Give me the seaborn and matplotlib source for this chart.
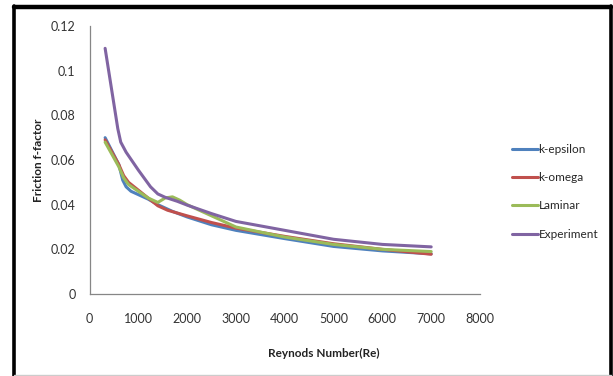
import matplotlib
matplotlib.use("Agg")
import matplotlib.pyplot as plt
from matplotlib.lines import Line2D
import numpy as np
import pandas as pd
import seaborn as sns

# Reynolds numbers and friction factors for each model
re_exp = [320, 580, 640, 750, 1000, 1250, 1400, 1550, 1800, 2000, 2500, 3000, 4000, 5000, 6000, 7000]
f_exp = [0.110, 0.074, 0.068, 0.0635, 0.0555, 0.048, 0.0448, 0.0433, 0.0415, 0.0398, 0.036, 0.0325,
         0.0285, 0.0245, 0.0222, 0.0211]

re_keps = [320, 600, 680, 750, 850, 1000, 1200, 1400, 1700, 2000, 2500, 3000, 4000, 5000, 6000, 7000]
f_keps = [0.070, 0.058, 0.051, 0.048, 0.046, 0.0445, 0.0425, 0.040, 0.037, 0.0345, 0.031, 0.0285,
          0.0248, 0.0213, 0.0193, 0.0180]

re_komg = [320, 600, 700, 800, 1000, 1200, 1400, 1600, 2000, 2500, 3000, 4000, 5000, 6000, 7000]
f_komg = [0.069, 0.058, 0.053, 0.050, 0.0465, 0.043, 0.0395, 0.0375, 0.035, 0.032, 0.0295,
          0.0258, 0.0225, 0.0200, 0.0178]

re_lam = [320, 600, 700, 800, 1000, 1200, 1400, 1550, 1700, 1850, 2000, 2300, 2600, 3000, 4000,
          5000, 6000, 7000]
f_lam = [0.068, 0.057, 0.052, 0.049, 0.046, 0.043, 0.041, 0.043, 0.0435, 0.042, 0.040, 0.037,
         0.034, 0.030, 0.0255, 0.0222, 0.0200, 0.0190]

series = ["k-epsilon", "k-omega", "Laminar", "Experiment"]
colors = ["#4F81BD", "#C0504D", "#9BBB59", "#8064A2"]

frames = []
for name, xs, ys in zip(series,
                        [re_keps, re_komg, re_lam, re_exp],
                        [f_keps, f_komg, f_lam, f_exp]):
    frames.append(pd.DataFrame({"Re": xs, "f": ys, "model": name}))
df = pd.concat(frames, ignore_index=True)

sns.set_theme(style="white")
plt.rcParams["font.family"] = ["Lato", "DejaVu Sans"]

fig = plt.figure(figsize=(6.13, 3.76), dpi=100)
ax = fig.add_axes([89.5 / 613, 1 - 294 / 376, (480 - 89.5) / 613, (294 - 26) / 376])

sns.lineplot(data=df, x="Re", y="f", hue="model", hue_order=series,
             palette=colors, linewidth=2.2, sort=False, estimator=None,
             ax=ax, legend=False)
for ln in ax.lines:
    ln.set_solid_joinstyle("round")
    ln.set_solid_capstyle("round")

ax.set_xlim(0, 8000)
ax.set_ylim(0, 0.12)
ax.set_xticks(np.arange(0, 8001, 1000))
ax.set_yticks([0, 0.02, 0.04, 0.06, 0.08, 0.1, 0.12])
ax.set_yticklabels(["0", "0.02", "0.04", "0.06", "0.08", "0.1", "0.12"])

for s in ["top", "right"]:
    ax.spines[s].set_visible(False)
for s in ["left", "bottom"]:
    ax.spines[s].set_color("#868686")
    ax.spines[s].set_linewidth(0.9)
ax.tick_params(axis="both", which="major", direction="out", length=4,
               width=0.9, color="#868686", labelsize=9, labelcolor="#333333")
ax.tick_params(axis="y", pad=6)
ax.tick_params(axis="x", pad=10)

ax.set_xlabel("Reynods Number(Re)", fontsize=8.5, fontweight="bold", color="#222222")
ax.set_ylabel("Friction f-factor", fontsize=8.5, fontweight="bold", color="#222222")
ax.xaxis.set_label_coords(0.6, -0.2)
ax.yaxis.set_label_coords(-0.117, 0.5)

handles = [Line2D([0], [0], color=c, lw=2.2) for c in colors]
fig.legend(handles, series, loc="upper left", bbox_to_anchor=(512 / 613, 1 - 144 / 376),
           frameon=False, fontsize=8.5, handlelength=2.2, handletextpad=0.05,
           labelspacing=1.46, borderaxespad=0, borderpad=0)

# Black frame around the chart area
fig.add_artist(Line2D([14 / 613, 14 / 613], [0, 1 - 6 / 376], color="black", lw=2.6,
                      transform=fig.transFigure))
fig.add_artist(Line2D([14 / 613, 611 / 613], [1 - 7 / 376, 1 - 7 / 376], color="black", lw=3.2,
                      transform=fig.transFigure))
fig.add_artist(Line2D([611 / 613, 611 / 613], [0, 1 - 6 / 376], color="black", lw=2.6,
                      transform=fig.transFigure))
fig.add_artist(Line2D([14 / 613, 611 / 613], [1.2 / 376, 1.2 / 376], color="#cccccc", lw=1,
                      transform=fig.transFigure))

fig.savefig("out.png", dpi=100)
